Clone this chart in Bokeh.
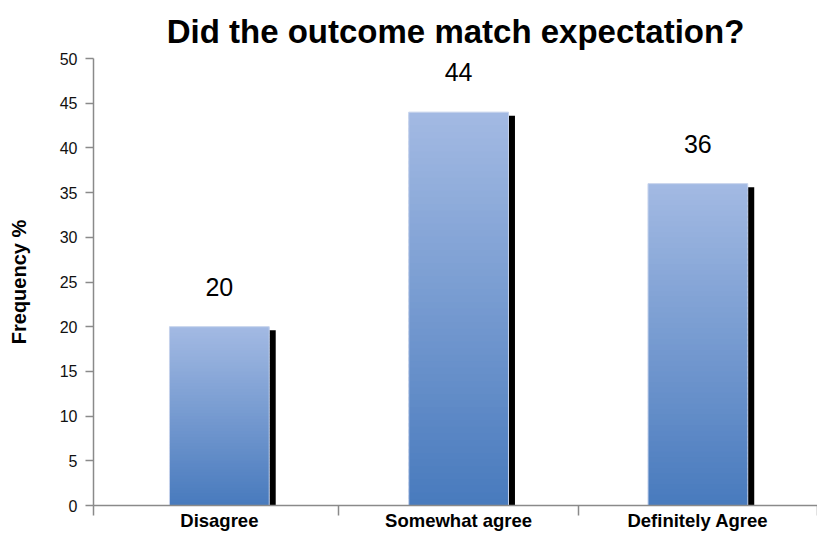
import numpy as np
from bokeh.plotting import figure
from bokeh.models import Range1d, FixedTicker
from bokeh.core.properties import value
from bokeh.embed import file_html
from bokeh.resources import INLINE

# ---- data ----
categories = ["Disagree", "Somewhat agree", "Definitely Agree"]
frequencies = [20, 44, 36]
value_labels = ["20", "44", "36"]
y_ticks = [0, 5, 10, 15, 20, 25, 30, 35, 40, 45, 50]
title_text = "Did the outcome match expectation?"
y_label = "Frequency %"

# ---- style ----
FONT = "Liberation Sans"
AXIS_COLOR = "#8a8a8a"
BAR_W = 0.417
X_START = -0.026
X_END = 3.0
TOP_RGB = np.array([163, 186, 227])
BOT_RGB = np.array([72, 122, 189])
N_SLICES = 60

centers = np.arange(len(categories)) + 0.5
vals = np.array(frequencies, dtype=float)

p = figure(width=817, height=533,
           x_range=Range1d(X_START, X_END), y_range=Range1d(0, 50),
           output_backend="svg", toolbar_location=None,
           min_border_left=93, min_border_right=0,
           min_border_bottom=26, min_border_top=58)
p.outline_line_color = None
p.xgrid.visible = False
p.ygrid.visible = False
p.background_fill_color = "white"
p.border_fill_color = "white"

# title
p.title.text = title_text
p.title.text_font = FONT
p.title.text_font_size = "33px"
p.title.text_font_style = "bold"
p.title.align = "center"
p.title.text_color = "black"
p.title.standoff = 17

# shadow
px_per_x = 240.0
px_per_y = 8.9
sx1 = 4 / px_per_x
sx2 = 6.5 / px_per_x
sy = 3.5 / px_per_y
p.quad(left=centers - BAR_W / 2 + sx1, right=centers + BAR_W / 2 + sx2,
       top=vals - sy, bottom=0, fill_color="black", line_color=None)

# gradient bars built from slices
xs, bottoms, tops, colors = [], [], [], []
for c, v in zip(centers, vals):
    for k in range(N_SLICES):
        b = v * k / N_SLICES
        t = min(v, v * (k + 1.6) / N_SLICES)
        f = (k + 0.5) / N_SLICES
        rgb = BOT_RGB + (TOP_RGB - BOT_RGB) * f
        xs.append(c)
        bottoms.append(b)
        tops.append(t)
        colors.append("#%02x%02x%02x" % tuple(int(round(x)) for x in rgb))
p.vbar(x=xs, bottom=bottoms, top=tops, width=BAR_W,
       fill_color=colors, line_color=None)
p.vbar(x=centers, bottom=0, top=vals, width=BAR_W, fill_color=None,
       line_color="#c6d3ec", line_width=1)

# value labels
p.text(x=centers, y=vals, text=value_labels, y_offset=-40,
       text_align="center", text_baseline="middle",
       text_font=value(FONT), text_font_size="25px", text_color="black")

# x axis
xa = p.xaxis[0]
xa.ticker = FixedTicker(ticks=list(centers),
                        minor_ticks=[X_START] + list(range(1, len(categories) + 1)))
xa.major_label_overrides = {float(c): n for c, n in zip(centers, categories)}
xa.major_tick_out = 0
xa.major_tick_in = 0
xa.minor_tick_out = 10
xa.minor_tick_in = 0
xa.minor_tick_line_color = AXIS_COLOR
xa.minor_tick_line_width = 1.5
xa.axis_line_color = AXIS_COLOR
xa.axis_line_width = 1.5
xa.major_label_standoff = -6
xa.major_label_text_font = FONT
xa.major_label_text_font_size = "18.5px"
xa.major_label_text_font_style = "bold"
xa.major_label_text_color = "black"

# y axis
ya = p.yaxis[0]
ya.ticker = FixedTicker(ticks=y_ticks, minor_ticks=[])
ya.major_tick_out = 8
ya.major_tick_in = 0
ya.major_tick_line_color = AXIS_COLOR
ya.major_tick_line_width = 1.5
ya.axis_line_color = AXIS_COLOR
ya.axis_line_width = 1.5
ya.major_label_standoff = 8
ya.major_label_text_font = FONT
ya.major_label_text_font_size = "16px"
ya.major_label_text_color = "#111111"
ya.axis_label = y_label
ya.axis_label_text_font = FONT
ya.axis_label_text_font_size = "20px"
ya.axis_label_text_font_style = "bold"
ya.axis_label_text_color = "black"
ya.axis_label_standoff = 27

open("out.html", "w").write(file_html(p, INLINE))
